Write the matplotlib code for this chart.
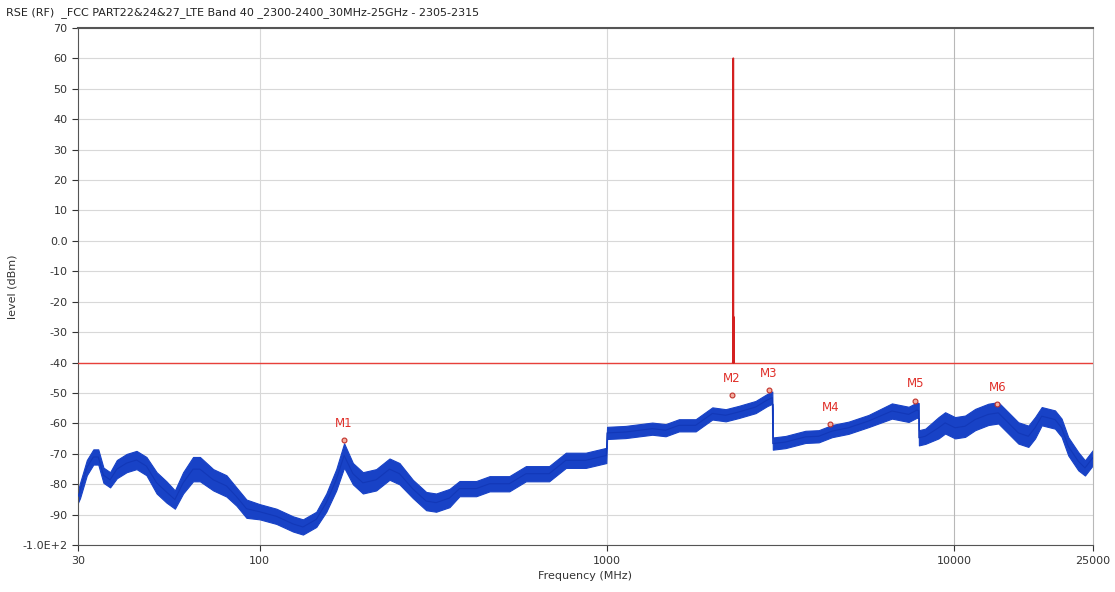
import matplotlib
matplotlib.use("Agg")
import matplotlib.pyplot as plt
import numpy as np

freq_mhz = [30, 30.4, 31.8, 33.2, 34.3, 35.5, 37.1, 38.8, 41.4, 44.2, 47.2, 50.5,
            53.9, 57.0, 60.2, 64.3, 67.3, 73.5, 80.2, 85.7, 91.6, 100, 111.7,
            124.7, 133.2, 145.5, 155.5, 166.1, 175, 185.5, 198.2, 216.4, 236.4,
            252.6, 276, 301.5, 322, 351.8, 376, 420, 459, 523, 584, 681, 761,
            868, 995,
            1000, 1130, 1349, 1474, 1610, 1799, 2009, 2195, 2395, 2676, 2889, 2990,
            3000, 3262, 3723, 4067, 4440, 4955, 5656, 6606, 7379, 7797, 7890,
            7900, 8243, 8999, 9400, 10040, 10730, 11470, 12520, 13370, 14290,
            15270, 16320, 17060, 17830, 19470, 20340, 21260, 22720, 23750, 25000]
level_dbm = [-84, -82, -74.5, -71, -71, -77, -78.5, -75, -73, -72, -74, -79.5,
             -82.5, -85, -79.5, -75, -75, -78.5, -80.5, -84, -88, -89, -90.5,
             -93, -94, -91.5, -86, -78.5, -70.5, -76.5, -79.5, -78.5, -75,
             -76.5, -81.5, -85.5, -86, -84.5, -81.4, -81.4, -79.8, -79.8, -76.5, -76.5, -72.1,
             -72.1, -70.5,
             -63.1, -62.8, -61.7, -62.2, -60.6, -60.6, -56.7, -57.3, -56.2, -54.6, -52.3, -51.5,
             -66.6, -66.1, -64.4, -64.2, -62.5, -61.4, -59.2, -55.9, -57, -55.6, -55.8,
             -64.7, -64.2, -61.4, -59.8, -61.4, -60.9, -58.7, -57, -56.5, -59.8,
             -63.1, -64.2, -61.4, -57.6, -58.7, -61.4, -67.5, -72.4, -74.6, -71.3]
# half height of the noise band
spread_db = [2, 2.5, 2.5, 2.5, 2.5, 2.5, 2.5, 3, 3, 3, 3, 3.5,
             3.5, 3, 3.5, 4, 4, 3.5, 3.5, 3, 3, 2.5, 2.5,
             2.5, 2.5, 2.5, 3, 3.5, 4, 3.5, 3.5, 3.5, 3.5,
             3.5, 3, 3, 3, 3, 2.5, 2.5, 2.5, 2.5, 2.5, 2.5, 2.5,
             2.5, 2.5,
             2, 2, 2, 2, 2, 2, 2, 2, 2, 2, 2, 2,
             2, 2, 2, 2, 2, 2, 2, 2.5, 2.5, 2.5, 2.5,
             2.5, 2.5, 3.5, 3.5, 3.5, 3.5, 3.5, 3.5, 3.5, 3.5,
             3.5, 3.5, 3.5, 3, 3, 3, 3, 3, 2.5, 2.5]

# Red in-band carrier trace
spike_freq = [2300, 2306, 2307, 2310, 2311, 2314, 2315, 2317, 2318, 2322]
spike_level = [-40, -40, 60, 60, -40, -40, -25, -25, -40, -40]

limit_dbm = -40

marker_names = ["M1", "M2", "M3", "M4", "M5", "M6"]
marker_freq = [175, 2290, 2922, 4395, 7709, 13300]
marker_level = [-65.5, -50.7, -49.1, -60.3, -52.6, -53.7]

x_ticks = [30, 100, 1000, 10000, 25000]
y_ticks = [70, 60, 50, 40, 30, 20, 10, 0, -10, -20, -30, -40, -50, -60, -70, -80, -90, -100]
y_tick_labels = ["70", "60", "50", "40", "30", "20", "10", "0.0", "-10", "-20", "-30",
                 "-40", "-50", "-60", "-70", "-80", "-90", "-1.0E+2"]

fig = plt.figure(figsize=(11.15, 5.92), dpi=100)
ax = fig.add_axes([0.070, 0.079, 0.910, 0.874])

ax.set_xscale("log")
ax.set_xlim(30, 25000)
ax.set_ylim(-100, 70)

# grid
for yv in y_ticks:
    ax.axhline(yv, color="#d8d8d8", lw=0.8, zorder=0)
for xv in [100, 1000]:
    ax.axvline(xv, color="#d8d8d8", lw=0.8, zorder=0)
ax.axvline(10000, color="#b8b8b8", lw=0.8, zorder=0)

lev = np.array(level_dbm)
spr = np.array(spread_db)
ax.fill_between(freq_mhz, lev - spr, lev + spr, color="#1842c6",
                edgecolor="#1842c6", lw=0.8, zorder=2)
ax.plot(freq_mhz, lev, color="#1238b8", lw=0.8, zorder=3)

ax.axhline(limit_dbm, color="#e8403a", lw=1.0, zorder=4)
ax.plot(spike_freq, spike_level, color="#d42020", lw=1.2, zorder=5)

for name, f, lv in zip(marker_names, marker_freq, marker_level):
    ax.plot(f, lv, "o", ms=3.5, mfc="#f4b0a0", mec="#c0302a", mew=0.8, zorder=6)
    ax.text(f, lv + 3.5, name, color="#e0302a", fontsize=8.5, ha="center", va="bottom", zorder=6)

ax.set_xticks(x_ticks)
ax.set_xticklabels([str(t) for t in x_ticks])
ax.xaxis.set_minor_locator(matplotlib.ticker.NullLocator())
ax.set_yticks(y_ticks)
ax.set_yticklabels(y_tick_labels)
ax.tick_params(axis="both", labelsize=8, colors="#333333", length=4, width=0.8)

for side in ["left", "bottom"]:
    ax.spines[side].set_color("#555555")
ax.spines["top"].set_color("#555555")
ax.spines["top"].set_linewidth(1.5)
ax.spines["right"].set_color("#b8b8b8")

ax.set_xlabel("Frequency (MHz)", fontsize=8, color="#333333", labelpad=4)
ax.set_ylabel("level (dBm)", fontsize=8, color="#333333")
ax.yaxis.set_label_coords(-0.060, 0.5)

fig.text(0.005, 0.978, "RSE (RF)  _FCC PART22&24&27_LTE Band 40 _2300-2400_30MHz-25GHz - 2305-2315",
         fontsize=8, color="#222222", ha="left", va="center")

fig.savefig("out.png", dpi=100)
